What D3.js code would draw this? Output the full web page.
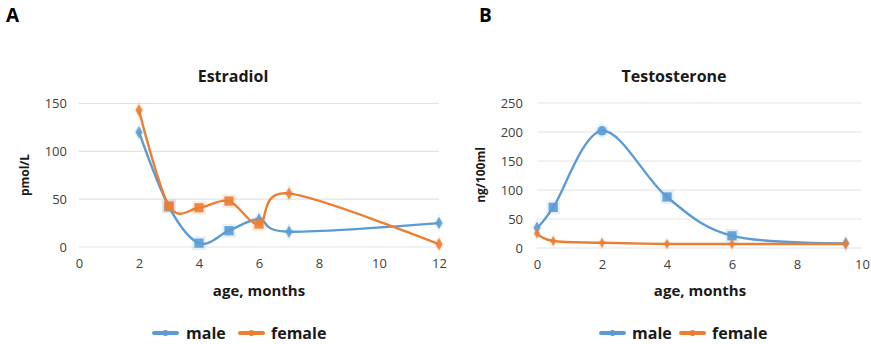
<!DOCTYPE html>
<html><head><meta charset="utf-8">
<script src="https://cdn.jsdelivr.net/npm/d3@7"></script>
<style>body{margin:0;background:#fff}svg{display:block}text{font-family:"Open Sans",sans-serif}</style>
</head><body>
<svg id="c" width="871" height="344"></svg>
<script>
// Panel A: Estradiol
const estX = [2, 3, 4, 5, 6, 7, 12];
const estMale = [120, 42, 4, 17, 29, 16, 25];
const estFemale = [143, 43, 41, 48, 24, 56, 3];
const estXTicks = [0, 2, 4, 6, 8, 10, 12];
const estYTicks = [0, 50, 100, 150];
// Panel B: Testosterone
const testX = [0, 0.5, 2, 4, 6, 9.5];
const testMale = [35, 70, 202, 88, 21, 8];
const testFemale = [25, 12, 9, 7, 7, 7];
const testXTicks = [0, 2, 4, 6, 8, 10];
const testYTicks = [0, 50, 100, 150, 200, 250];
const seriesNames = ["male", "female"];

const estMaleShapes = ["d","s","s","s","d","d","d"];
const estFemaleShapes = ["d","s","s","s","s","d","d"];
const testMaleShapes = ["d","s","c","s","s","d"];
const testFemaleShapes = ["d","d","d","d","d","d"];

const colors = {male:"#5B9BD5", female:"#ED7D31"};
const svg = d3.select("#c");

function panel(cfg){
  const g = svg.append("g");
  const x = d3.scaleLinear().domain(cfg.xDomain).range(cfg.xRange);
  const y = d3.scaleLinear().domain(cfg.yDomain).range(cfg.yRange);
  g.selectAll(".grid").data(cfg.yTicks).join("line")
    .attr("x1", cfg.xRange[0]).attr("x2", cfg.xRange[1])
    .attr("y1", d=>y(d)).attr("y2", d=>y(d))
    .attr("stroke", "#e3e3e3").attr("stroke-width", 1.2);
  const ya = g.append("g").attr("transform", `translate(${cfg.xRange[0]},0)`)
    .call(d3.axisLeft(y).tickValues(cfg.yTicks).tickSize(0).tickPadding(cfg.yPad));
  ya.select(".domain").remove();
  ya.selectAll("text").attr("font-size", 13).attr("fill", "#404040").attr("font-family","Open Sans");
  const xa = g.append("g").attr("transform", `translate(0,${cfg.yRange[0]})`)
    .call(d3.axisBottom(x).tickValues(cfg.xTicks).tickSize(0).tickPadding(12));
  xa.select(".domain").remove();
  xa.selectAll("text").attr("font-size", 13).attr("fill", "#404040").attr("font-family","Open Sans");
  g.append("text").attr("x", cfg.titleX).attr("y", 82).attr("text-anchor","middle")
    .attr("font-size", 16).attr("font-weight","bold").attr("fill","#1a1a1a").text(cfg.title);
  g.append("text").attr("x", cfg.letterX).attr("y", 22)
    .attr("font-size", 19).attr("font-weight","bold").attr("fill","#000").text(cfg.letter);
  g.append("text").attr("transform", `translate(${cfg.yLabelX},175) rotate(-90)`)
    .attr("text-anchor","middle").attr("font-size", 12).attr("font-weight","bold")
    .attr("fill","#1a1a1a").text(cfg.yLabel);
  g.append("text").attr("x", cfg.xTitleX).attr("y", 296).attr("text-anchor","middle")
    .attr("font-size", 15).attr("font-weight","bold").attr("fill","#1a1a1a").text("age, months");

  const line = d3.line().x(d=>x(d[0])).y(d=>y(d[1])).curve(d3.curveCardinal.tension(0));
  cfg.series.forEach(s=>{
    const pts = cfg.xs.map((v,i)=>[v, s.values[i]]);
    g.append("path").datum(pts).attr("d", line).attr("fill","none")
      .attr("stroke", colors[s.name]).attr("stroke-width", 2.4);
    pts.forEach((p,i)=>{
      const sh = s.shapes[i];
      const cx = x(p[0]), cy = y(p[1]);
      const sym = sh==="s" ? d3.symbolSquare : (sh==="c" ? d3.symbolCircle : d3.symbolDiamond);
      const size = s.small ? 28 : (sh==="s" ? 85 : (sh==="c" ? 70 : 42));
      g.append("path").attr("d", d3.symbol().type(sym).size(size*2.2)())
        .attr("transform",`translate(${cx},${cy})`).attr("fill", colors[s.name]).attr("opacity",0.15);
      g.append("path").attr("d", d3.symbol().type(sym).size(size)())
        .attr("transform",`translate(${cx},${cy})`).attr("fill", colors[s.name]).attr("opacity",0.9);
    });
  });
  const lg = g.append("g");
  cfg.legend.forEach((l,i)=>{
    const nm = seriesNames[i];
    lg.append("line").attr("x1", l[0]).attr("x2", l[0]+23).attr("y1", 333).attr("y2", 333)
      .attr("stroke", colors[nm]).attr("stroke-width", 4).attr("stroke-linecap","round");
    lg.append("circle").attr("cx", l[0]+11.5).attr("cy", 333).attr("r", 3).attr("fill", colors[nm]);
    lg.append("text").attr("x", l[1]).attr("y", 339).attr("font-size", 16).attr("font-weight","bold")
      .attr("fill","#1a1a1a").text(nm);
  });
}

panel({
  xDomain:[0,12], xRange:[79,439], yDomain:[0,150], yRange:[247,103.5],
  xTicks:estXTicks, yTicks:estYTicks, yPad:12, title:"Estradiol", titleX:233,
  letter:"A", letterX:6, yLabel:"pmol/L", yLabelX:29, xTitleX:259,
  xs:estX,
  series:[{name:"male", values:estMale, shapes:estMaleShapes},
          {name:"female", values:estFemale, shapes:estFemaleShapes}],
  legend:[[154,186],[240,271]]
});
panel({
  xDomain:[0,10], xRange:[537,862], yDomain:[0,250], yRange:[248,103],
  xTicks:testXTicks, yTicks:testYTicks, yPad:14, title:"Testosterone", titleX:674,
  letter:"B", letterX:479, yLabel:"ng/100ml", yLabelX:485, xTitleX:700,
  xs:testX,
  series:[{name:"male", values:testMale, shapes:testMaleShapes},
          {name:"female", values:testFemale, shapes:testFemaleShapes, small:true}],
  legend:[[601,632],[681,712]]
});
</script>
</body></html>
